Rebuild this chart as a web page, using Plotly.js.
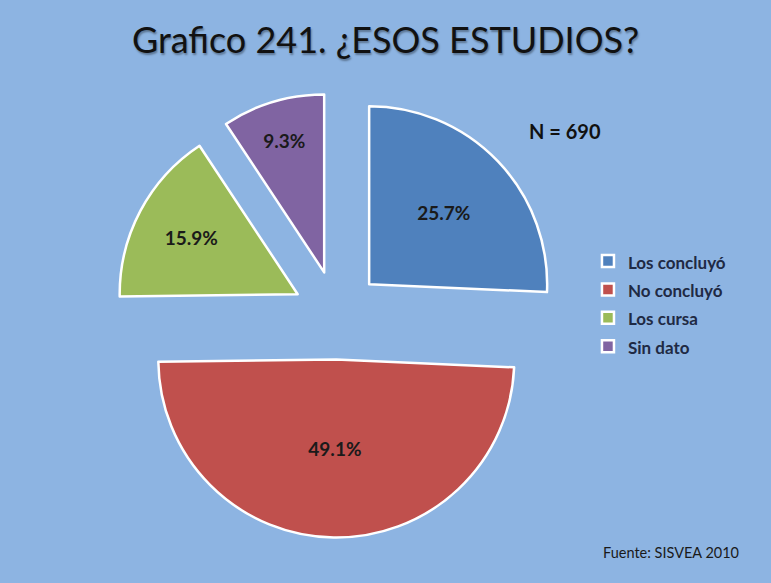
<!DOCTYPE html>
<html>
<head>
<meta charset="utf-8">
<script src="https://cdn.plot.ly/plotly-3.0.1.min.js"></script>
<style>html,body{margin:0;padding:0;background:#8DB4E2;}#chart{width:771px;height:583px;}</style>
</head>
<body>
<div id="chart"></div>
<script>
const categories = ["Los concluyó", "No concluyó", "Los cursa", "Sin dato"];
const percentages = [25.7, 49.1, 15.9, 9.3];
const sliceColors = ["#4F81BD", "#C0504D", "#9BBB59", "#8064A2"];
const titleText = "Grafico 241. ¿ESOS ESTUDIOS?";
const sampleNote = "N = 690";
const sourceNote = "Fuente: SISVEA 2010";

const legendLabels = categories.map(c => '<span style="font-size:17px">' + c + '</span>');

const trace = {
  type: "pie",
  labels: legendLabels,
  values: percentages,
  sort: false,
  direction: "clockwise",
  rotation: 0,
  pull: [0.25, 0.25, 0.25, 0.25],
  marker: {colors: sliceColors, line: {color: "#FFFFFF", width: 2.5}},
  texttemplate: "%{value:.1f}%",
  textposition: "inside",
  insidetextorientation: "horizontal",
  textfont: {family: "Lato, 'Open Sans', sans-serif", size: 19, color: "#1a1a1a", weight: "bold"},
  hoverinfo: "none",
  domain: {x: [0.1485, 0.7257], y: [0.078, 0.8413]}
};

const layout = {
  width: 771, height: 583,
  paper_bgcolor: "#8DB4E2",
  plot_bgcolor: "#8DB4E2",
  margin: {l: 0, r: 0, t: 0, b: 0},
  title: {
    text: titleText,
    x: 0.5, xanchor: "center",
    y: 0.931, yanchor: "middle",
    font: {family: "Lato, 'Open Sans', sans-serif", size: 36, color: "#111111", shadow: "1px 2px 2px rgba(0,0,0,0.35)"}
  },
  showlegend: true,
  legend: {
    x: 0.7626, y: 0.585, xanchor: "left", yanchor: "top",
    bgcolor: "rgba(0,0,0,0)",
    font: {family: "Lato, 'Open Sans', sans-serif", size: 19.5, color: "#1F2A44", weight: "bold"},
    itemwidth: 30,
    traceorder: "normal"
  },
  annotations: [
    {text: sampleNote, xref: "paper", yref: "paper", x: 0.684, y: 0.775, xanchor: "left", yanchor: "middle", showarrow: false,
     font: {family: "Lato, 'Open Sans', sans-serif", size: 20, color: "#111111", weight: "bold"}},
    {text: sourceNote, xref: "paper", yref: "paper", x: 0.779, y: 0.052, xanchor: "left", yanchor: "middle", showarrow: false,
     font: {family: "Lato, 'Open Sans', sans-serif", size: 14.5, color: "#1a1a1a"}}
  ]
};

Plotly.newPlot("chart", [trace], layout, {displayModeBar: false, staticPlot: true});
</script>
</body>
</html>
